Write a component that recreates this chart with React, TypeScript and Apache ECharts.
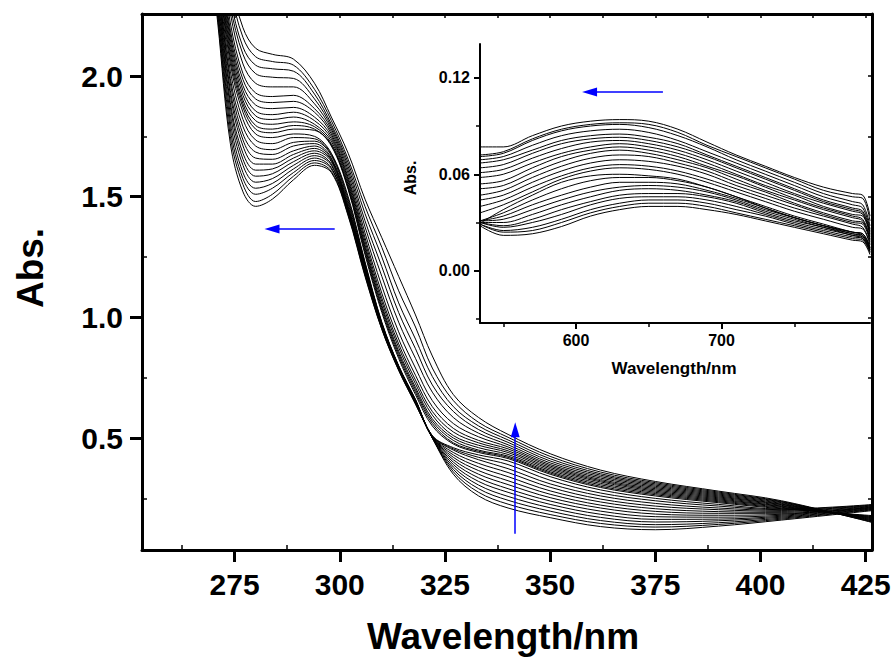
import React, { useEffect, useRef } from 'react';
import * as echarts from 'echarts';

// ---------- main spectrum data ----------
const MAIN_WL = [268, 271, 274, 277, 280, 284, 289, 294, 298, 302, 306, 310, 314, 318, 322, 327, 333, 340, 350, 362, 375, 390, 405, 427];

const FAMILY_A: number[][] = [
  [2.70, 2.22, 1.72, 1.52, 1.46, 1.49, 1.57, 1.63, 1.60, 1.42, 1.17, 0.95, 0.78, 0.64, 0.50, 0.35, 0.26, 0.21, 0.17, 0.133, 0.12, 0.135, 0.16, 0.200],
  [2.72, 2.24, 1.75, 1.55, 1.48, 1.51, 1.585, 1.64, 1.605, 1.425, 1.175, 0.952, 0.782, 0.642, 0.50, 0.36, 0.275, 0.226, 0.183, 0.146, 0.131, 0.142, 0.164, 0.203],
  [2.73, 2.26, 1.78, 1.575, 1.51, 1.535, 1.60, 1.65, 1.615, 1.43, 1.18, 0.955, 0.784, 0.644, 0.50, 0.37, 0.29, 0.242, 0.197, 0.158, 0.141, 0.149, 0.168, 0.205],
  [2.75, 2.28, 1.81, 1.60, 1.535, 1.555, 1.615, 1.66, 1.62, 1.435, 1.185, 0.957, 0.786, 0.646, 0.501, 0.38, 0.305, 0.258, 0.211, 0.171, 0.152, 0.157, 0.172, 0.207],
  [2.77, 2.30, 1.84, 1.63, 1.56, 1.575, 1.63, 1.67, 1.63, 1.44, 1.19, 0.96, 0.788, 0.648, 0.502, 0.39, 0.32, 0.275, 0.225, 0.184, 0.163, 0.164, 0.176, 0.209],
  [2.78, 2.32, 1.87, 1.655, 1.585, 1.595, 1.645, 1.68, 1.635, 1.445, 1.195, 0.962, 0.79, 0.65, 0.503, 0.40, 0.335, 0.29, 0.239, 0.197, 0.174, 0.172, 0.18, 0.211],
  [2.80, 2.34, 1.89, 1.68, 1.61, 1.615, 1.66, 1.69, 1.645, 1.45, 1.20, 0.965, 0.792, 0.652, 0.504, 0.41, 0.35, 0.307, 0.253, 0.21, 0.185, 0.18, 0.184, 0.213],
  [2.82, 2.36, 1.92, 1.71, 1.635, 1.635, 1.675, 1.70, 1.65, 1.455, 1.205, 0.967, 0.794, 0.654, 0.505, 0.42, 0.365, 0.323, 0.267, 0.222, 0.196, 0.188, 0.188, 0.215],
  [2.83, 2.38, 1.94, 1.735, 1.66, 1.655, 1.69, 1.71, 1.655, 1.46, 1.21, 0.97, 0.795, 0.655, 0.506, 0.43, 0.38, 0.34, 0.281, 0.235, 0.207, 0.195, 0.192, 0.217],
  [2.85, 2.40, 1.97, 1.76, 1.685, 1.675, 1.71, 1.72, 1.66, 1.47, 1.215, 0.972, 0.796, 0.656, 0.507, 0.44, 0.395, 0.357, 0.296, 0.247, 0.218, 0.203, 0.196, 0.219],
  [2.87, 2.41, 1.99, 1.79, 1.71, 1.695, 1.725, 1.73, 1.67, 1.48, 1.22, 0.975, 0.797, 0.657, 0.508, 0.45, 0.41, 0.373, 0.31, 0.26, 0.229, 0.21, 0.20, 0.221],
  [2.88, 2.43, 2.02, 1.82, 1.735, 1.72, 1.745, 1.74, 1.675, 1.49, 1.225, 0.977, 0.798, 0.658, 0.509, 0.455, 0.42, 0.39, 0.325, 0.272, 0.24, 0.218, 0.203, 0.223],
  [2.90, 2.45, 2.05, 1.85, 1.76, 1.745, 1.76, 1.75, 1.68, 1.50, 1.23, 0.98, 0.80, 0.66, 0.51, 0.46, 0.43, 0.405, 0.34, 0.285, 0.25, 0.225, 0.206, 0.225],
];

const FAMILY_B: number[][] = [
  [2.95, 2.47, 2.07, 1.87, 1.78, 1.765, 1.78, 1.775, 1.71, 1.53, 1.26, 1.02, 0.83, 0.68, 0.55, 0.475, 0.44, 0.415, 0.35, 0.295, 0.26, 0.232, 0.207, 0.178],
  [2.97, 2.49, 2.09, 1.885, 1.795, 1.78, 1.795, 1.78, 1.715, 1.535, 1.27, 1.03, 0.84, 0.69, 0.56, 0.48, 0.445, 0.42, 0.355, 0.30, 0.265, 0.236, 0.21, 0.175],
  [2.99, 2.50, 2.11, 1.90, 1.815, 1.80, 1.81, 1.79, 1.72, 1.54, 1.28, 1.04, 0.85, 0.70, 0.57, 0.49, 0.45, 0.425, 0.36, 0.306, 0.27, 0.24, 0.213, 0.173],
  [3.01, 2.52, 2.13, 1.92, 1.835, 1.82, 1.83, 1.80, 1.73, 1.55, 1.29, 1.05, 0.86, 0.71, 0.58, 0.50, 0.46, 0.432, 0.366, 0.312, 0.275, 0.244, 0.216, 0.170],
  [3.03, 2.54, 2.15, 1.94, 1.855, 1.84, 1.85, 1.815, 1.74, 1.56, 1.30, 1.065, 0.875, 0.725, 0.595, 0.51, 0.47, 0.44, 0.372, 0.318, 0.28, 0.248, 0.218, 0.168],
  [3.05, 2.55, 2.17, 1.96, 1.88, 1.865, 1.87, 1.83, 1.75, 1.57, 1.315, 1.08, 0.89, 0.74, 0.61, 0.525, 0.48, 0.447, 0.378, 0.323, 0.285, 0.252, 0.221, 0.165],
  [3.07, 2.57, 2.19, 1.985, 1.905, 1.89, 1.895, 1.85, 1.76, 1.58, 1.33, 1.10, 0.91, 0.76, 0.63, 0.54, 0.49, 0.455, 0.384, 0.328, 0.29, 0.256, 0.224, 0.163],
  [3.09, 2.59, 2.22, 2.01, 1.93, 1.915, 1.92, 1.865, 1.77, 1.595, 1.35, 1.13, 0.94, 0.79, 0.655, 0.56, 0.505, 0.463, 0.39, 0.334, 0.295, 0.26, 0.226, 0.160],
  [3.11, 2.61, 2.26, 2.05, 1.97, 1.955, 1.955, 1.885, 1.78, 1.61, 1.375, 1.17, 0.98, 0.83, 0.69, 0.585, 0.52, 0.472, 0.397, 0.34, 0.30, 0.264, 0.229, 0.158],
  [3.13, 2.63, 2.29, 2.09, 2.01, 1.995, 1.99, 1.905, 1.79, 1.625, 1.40, 1.21, 1.02, 0.87, 0.72, 0.61, 0.535, 0.482, 0.405, 0.346, 0.305, 0.268, 0.232, 0.155],
  [3.15, 2.65, 2.32, 2.12, 2.045, 2.03, 2.02, 1.925, 1.80, 1.64, 1.43, 1.25, 1.06, 0.91, 0.755, 0.63, 0.55, 0.492, 0.414, 0.352, 0.31, 0.272, 0.235, 0.153],
  [3.18, 2.68, 2.36, 2.16, 2.08, 2.06, 2.045, 1.945, 1.815, 1.655, 1.46, 1.29, 1.11, 0.96, 0.79, 0.655, 0.565, 0.503, 0.424, 0.359, 0.315, 0.276, 0.237, 0.150],
  [3.20, 2.70, 2.40, 2.20, 2.115, 2.09, 2.07, 1.97, 1.83, 1.68, 1.49, 1.33, 1.17, 1.01, 0.84, 0.68, 0.585, 0.515, 0.435, 0.367, 0.32, 0.28, 0.24, 0.148],
];

// ---------- inset data ----------
const INSET_WL = [534, 550, 570, 590, 610, 630, 650, 670, 690, 710, 730, 750, 770, 790, 797, 802];

const INSET_LOW: number[][] = [
  [0.028, 0.022, 0.023, 0.0275, 0.034, 0.038, 0.040, 0.040, 0.038, 0.035, 0.031, 0.027, 0.023, 0.019, 0.018, 0.010],
  [0.029, 0.024, 0.025, 0.030, 0.036, 0.040, 0.042, 0.042, 0.040, 0.036, 0.032, 0.028, 0.024, 0.020, 0.019, 0.011],
  [0.029, 0.025, 0.027, 0.032, 0.038, 0.042, 0.044, 0.044, 0.042, 0.038, 0.034, 0.029, 0.025, 0.021, 0.020, 0.012],
  [0.030, 0.027, 0.030, 0.035, 0.041, 0.045, 0.046, 0.046, 0.044, 0.040, 0.035, 0.030, 0.026, 0.022, 0.020, 0.012],
  [0.030, 0.028, 0.032, 0.038, 0.043, 0.047, 0.048, 0.048, 0.046, 0.042, 0.036, 0.031, 0.027, 0.022, 0.021, 0.013],
  [0.030, 0.030, 0.035, 0.041, 0.046, 0.050, 0.051, 0.050, 0.047, 0.043, 0.037, 0.032, 0.027, 0.023, 0.021, 0.013],
  [0.031, 0.032, 0.038, 0.044, 0.049, 0.052, 0.053, 0.052, 0.049, 0.044, 0.038, 0.033, 0.028, 0.023, 0.022, 0.014],
  [0.031, 0.034, 0.041, 0.047, 0.052, 0.055, 0.055, 0.054, 0.050, 0.045, 0.039, 0.033, 0.028, 0.024, 0.022, 0.014],
  [0.031, 0.036, 0.044, 0.051, 0.056, 0.058, 0.058, 0.056, 0.052, 0.046, 0.040, 0.034, 0.029, 0.024, 0.023, 0.015],
  [0.0295, 0.038, 0.047, 0.055, 0.059, 0.060, 0.059, 0.057, 0.052, 0.046, 0.039, 0.033, 0.028, 0.024, 0.023, 0.014],
];

const INSET_HIGH: number[][] = [
  [0.036, 0.041, 0.049, 0.057, 0.062, 0.064, 0.063, 0.060, 0.055, 0.049, 0.043, 0.037, 0.032, 0.027, 0.026, 0.016],
  [0.040, 0.044, 0.052, 0.059, 0.064, 0.066, 0.065, 0.062, 0.057, 0.051, 0.045, 0.039, 0.034, 0.029, 0.027, 0.017],
  [0.044, 0.047, 0.055, 0.062, 0.067, 0.069, 0.068, 0.065, 0.060, 0.053, 0.047, 0.041, 0.035, 0.030, 0.029, 0.018],
  [0.047, 0.050, 0.058, 0.065, 0.070, 0.072, 0.071, 0.067, 0.062, 0.055, 0.049, 0.042, 0.036, 0.031, 0.030, 0.019],
  [0.051, 0.053, 0.061, 0.068, 0.073, 0.075, 0.073, 0.069, 0.064, 0.057, 0.050, 0.044, 0.038, 0.033, 0.031, 0.020],
  [0.054, 0.056, 0.064, 0.071, 0.075, 0.077, 0.075, 0.071, 0.065, 0.059, 0.052, 0.045, 0.039, 0.034, 0.032, 0.021],
  [0.058, 0.060, 0.067, 0.073, 0.077, 0.079, 0.077, 0.073, 0.067, 0.060, 0.053, 0.047, 0.040, 0.035, 0.034, 0.022],
  [0.061, 0.063, 0.070, 0.076, 0.080, 0.081, 0.079, 0.075, 0.069, 0.062, 0.055, 0.048, 0.042, 0.037, 0.035, 0.023],
  [0.064, 0.066, 0.073, 0.079, 0.082, 0.083, 0.081, 0.077, 0.071, 0.064, 0.057, 0.050, 0.043, 0.038, 0.036, 0.024],
  [0.067, 0.069, 0.075, 0.081, 0.084, 0.085, 0.083, 0.079, 0.072, 0.065, 0.058, 0.051, 0.044, 0.039, 0.037, 0.025],
  [0.069, 0.071, 0.078, 0.084, 0.087, 0.088, 0.086, 0.081, 0.074, 0.067, 0.060, 0.053, 0.046, 0.041, 0.039, 0.026],
  [0.071, 0.073, 0.081, 0.087, 0.090, 0.091, 0.089, 0.084, 0.077, 0.069, 0.062, 0.055, 0.048, 0.043, 0.041, 0.028],
  [0.072, 0.074, 0.082, 0.088, 0.091, 0.092, 0.091, 0.086, 0.078, 0.071, 0.064, 0.057, 0.050, 0.046, 0.045, 0.031],
  [0.077, 0.077, 0.084, 0.090, 0.093, 0.094, 0.093, 0.088, 0.080, 0.072, 0.065, 0.058, 0.052, 0.048, 0.047, 0.034],
];

// ---------- ticks ----------
const MAIN_X_MAJOR = [275, 300, 325, 350, 375, 400, 425];
const MAIN_X_MINOR = [262.5, 287.5, 312.5, 337.5, 362.5, 387.5, 412.5];
const MAIN_Y_MAJOR = [0.5, 1.0, 1.5, 2.0];
const MAIN_Y_MINOR = [0.25, 0.75, 1.25, 1.75];
const INSET_X_MAJOR = [600, 700];
const INSET_X_MINOR = [550, 650, 750];
const INSET_Y_MAJOR = [0, 0.06, 0.12];
const INSET_Y_MINOR = [-0.03, 0.03, 0.09];

// ---------- annotation arrows (data coordinates) ----------
const MAIN_ARROW_LEFT = { from: [298.8, 1.366], to: [283.9, 1.366] };
const MAIN_ARROW_UP = { from: [341.7, 0.103], to: [341.7, 0.534] };
const INSET_ARROW_LEFT = { from: [659.7, 0.1111], to: [609.3, 0.1111] };

const FONT = '"Liberation Sans", Arial, Helvetica, sans-serif';
const BLUE = '#0000ff';

function curve(wl: number[], vals: number[], xi: number, yi: number) {
  return {
    type: 'line',
    xAxisIndex: xi,
    yAxisIndex: yi,
    data: wl.map((w, i) => [w, vals[i]]),
    symbol: 'none',
    showSymbol: false,
    smooth: 0.35,
    silent: true,
    clip: true,
    lineStyle: { color: '#000', width: 1 },
    z: 2,
  };
}

function arrowSeries(xi: number, yi: number, arrows: { from: number[]; to: number[] }[]) {
  return {
    type: 'line',
    xAxisIndex: xi,
    yAxisIndex: yi,
    data: [],
    silent: true,
    z: 5,
    markLine: {
      silent: true,
      animation: false,
      symbol: ['none', 'triangle'],
      symbolSize: [9, 15],
      label: { show: false },
      lineStyle: { color: BLUE, width: 1.5, type: 'solid' },
      emphasis: { disabled: true },
      data: arrows.map((a) => [{ coord: a.from }, { coord: a.to }]),
    },
  };
}

function buildOption() {
  const black = '#000';
  const labelStyle = (size: number) => ({ color: black, fontSize: size, fontWeight: 'bold', fontFamily: FONT });
  const series: any[] = [];
  FAMILY_A.forEach((c) => series.push(curve(MAIN_WL, c, 0, 0)));
  FAMILY_B.forEach((c) => series.push(curve(MAIN_WL, c, 0, 0)));
  INSET_LOW.forEach((c) => series.push(curve(INSET_WL, c, 3, 3)));
  INSET_HIGH.forEach((c) => series.push(curve(INSET_WL, c, 3, 3)));
  series.push(arrowSeries(0, 0, [MAIN_ARROW_LEFT, MAIN_ARROW_UP]));
  series.push(arrowSeries(3, 3, [INSET_ARROW_LEFT]));

  const hidden = { show: false };
  return {
    animation: false,
    backgroundColor: '#ffffff',
    grid: [
      { left: 142, top: 14, width: 730, height: 536, containLabel: false, outerBoundsMode: 'none' },
      { left: 480, top: 44, width: 390, height: 279, containLabel: false, outerBoundsMode: 'none' },
    ],
    xAxis: [
      {
        type: 'value', gridIndex: 0, position: 'bottom', min: 253, max: 426.5,
        axisLine: { show: true, onZero: false, lineStyle: { color: black, width: 3 } },
        axisTick: { show: true, customValues: MAIN_X_MAJOR, length: 12, inside: false, lineStyle: { color: black, width: 3 } },
        axisLabel: { show: true, customValues: MAIN_X_MAJOR, margin: 19, ...labelStyle(30), formatter: (v: number) => String(v) },
        splitLine: hidden,
      },
      {
        type: 'value', gridIndex: 0, position: 'bottom', min: 253, max: 426.5,
        axisLine: { show: false, onZero: false },
        axisTick: { show: true, customValues: MAIN_X_MINOR, length: 5, inside: true, lineStyle: { color: black, width: 1.5 } },
        axisLabel: hidden, splitLine: hidden,
      },
      {
        type: 'value', gridIndex: 0, position: 'top', min: 253, max: 426.5,
        axisLine: { show: true, onZero: false, lineStyle: { color: black, width: 3 } },
        axisTick: { show: true, customValues: [...MAIN_X_MAJOR, ...MAIN_X_MINOR], length: 4, inside: true, lineStyle: { color: black, width: 1.5 } },
        axisLabel: hidden, splitLine: hidden,
      },
      {
        type: 'value', gridIndex: 1, position: 'bottom', min: 534, max: 802,
        axisLine: { show: true, onZero: false, lineStyle: { color: black, width: 2 } },
        axisTick: { show: true, customValues: INSET_X_MAJOR, length: 6, inside: false, lineStyle: { color: black, width: 2 } },
        axisLabel: { show: true, customValues: INSET_X_MAJOR, margin: 9, ...labelStyle(16), formatter: (v: number) => String(v) },
        splitLine: hidden,
      },
      {
        type: 'value', gridIndex: 1, position: 'bottom', min: 534, max: 802,
        axisLine: { show: false, onZero: false },
        axisTick: { show: true, customValues: INSET_X_MINOR, length: 4, inside: false, lineStyle: { color: black, width: 1.5 } },
        axisLabel: hidden, splitLine: hidden,
      },
    ],
    yAxis: [
      {
        type: 'value', gridIndex: 0, position: 'left', min: 0.036, max: 2.257,
        axisLine: { show: true, onZero: false, lineStyle: { color: black, width: 3 } },
        axisTick: { show: true, customValues: MAIN_Y_MAJOR, length: 12, inside: false, lineStyle: { color: black, width: 3 } },
        axisLabel: { show: true, customValues: MAIN_Y_MAJOR, margin: 19, ...labelStyle(30), formatter: (v: number) => v.toFixed(1) },
        splitLine: hidden,
      },
      {
        type: 'value', gridIndex: 0, position: 'left', min: 0.036, max: 2.257,
        axisLine: { show: false, onZero: false },
        axisTick: { show: true, customValues: MAIN_Y_MINOR, length: 5, inside: true, lineStyle: { color: black, width: 1.5 } },
        axisLabel: hidden, splitLine: hidden,
      },
      {
        type: 'value', gridIndex: 0, position: 'right', min: 0.036, max: 2.257,
        axisLine: { show: true, onZero: false, lineStyle: { color: black, width: 3 } },
        axisTick: { show: true, customValues: [...MAIN_Y_MINOR, ...MAIN_Y_MAJOR], length: 4, inside: true, lineStyle: { color: black, width: 1.5 } },
        axisLabel: hidden, splitLine: hidden,
      },
      {
        type: 'value', gridIndex: 1, position: 'left', min: -0.0325, max: 0.141,
        axisLine: { show: true, onZero: false, lineStyle: { color: black, width: 2 } },
        axisTick: { show: true, customValues: INSET_Y_MAJOR, length: 6, inside: false, lineStyle: { color: black, width: 2 } },
        axisLabel: { show: true, customValues: INSET_Y_MAJOR, margin: 10, ...labelStyle(16), formatter: (v: number) => v.toFixed(2) },
        splitLine: hidden,
      },
      {
        type: 'value', gridIndex: 1, position: 'left', min: -0.0325, max: 0.141,
        axisLine: { show: false, onZero: false },
        axisTick: { show: true, customValues: INSET_Y_MINOR, length: 4, inside: false, lineStyle: { color: black, width: 1.5 } },
        axisLabel: hidden, splitLine: hidden,
      },
    ],
    graphic: [
      { type: 'text', x: 503, y: 636, silent: true, style: { text: 'Wavelength/nm', fill: black, fontSize: 37, fontWeight: 'bold', fontFamily: FONT, align: 'center', verticalAlign: 'middle' } },
      { type: 'text', x: 30, y: 268, rotation: Math.PI / 2, silent: true, style: { text: 'Abs.', fill: black, fontSize: 37, fontWeight: 'bold', fontFamily: FONT, align: 'center', verticalAlign: 'middle' } },
      { type: 'text', x: 674, y: 368, silent: true, style: { text: 'Wavelength/nm', fill: black, fontSize: 17, fontWeight: 'bold', fontFamily: FONT, align: 'center', verticalAlign: 'middle' } },
      { type: 'text', x: 410, y: 178, rotation: Math.PI / 2, silent: true, style: { text: 'Abs.', fill: black, fontSize: 16, fontWeight: 'bold', fontFamily: FONT, align: 'center', verticalAlign: 'middle' } },
    ],
    series,
  };
}

export default function App() {
  const ref = useRef<HTMLDivElement | null>(null);
  useEffect(() => {
    if (!ref.current) return;
    const chart = echarts.init(ref.current, undefined, { renderer: 'svg' });
    chart.setOption(buildOption() as any);
    return () => chart.dispose();
  }, []);
  return (
    <div
      ref={ref}
      style={{ position: 'fixed', left: 0, top: 0, width: 896, height: 658, background: '#fff' }}
    />
  );
}
